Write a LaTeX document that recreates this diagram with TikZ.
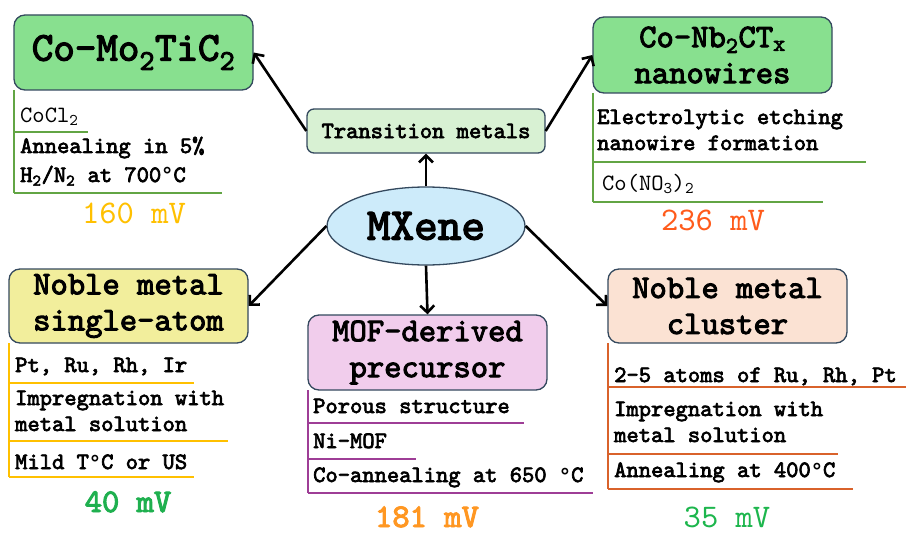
\documentclass[tikz,border=0pt]{standalone}
\usepackage{fontspec}
\newfontfamily\courb{lmmono10-regular.otf}[FakeBold=3]
\newfontfamily\courr{lmmono10-regular.otf}
\newcommand\dg{{\courr °}}
\usetikzlibrary{arrows.meta,shapes.geometric}
\definecolor{bordc}{HTML}{34495E}
\definecolor{gfill}{HTML}{88E08F}
\definecolor{tfill}{HTML}{D8F1D3}
\definecolor{efill}{HTML}{CDEBFA}
\definecolor{yfill}{HTML}{F2EE9C}
\definecolor{pfill}{HTML}{F1CDEC}
\definecolor{ofill}{HTML}{FBE2D3}
\definecolor{gline}{HTML}{62A544}
\definecolor{yline}{HTML}{FFC000}
\definecolor{pline}{HTML}{9E3D96}
\definecolor{oline}{HTML}{D9622B}
\definecolor{v160}{HTML}{FFC000}
\definecolor{v236}{HTML}{FF5B1B}
\definecolor{v40}{HTML}{1FB04F}
\definecolor{v181}{HTML}{FF9722}
\definecolor{v35}{HTML}{1DB64D}
\tikzset{
  box/.style={draw=bordc, line width=1.3pt, rounded corners=11pt, minimum width=239pt, inner sep=0pt, align=center, font=\courb\fontsize{33}{36}\selectfont},
  conn/.style={line width=2.6pt, -{Straight Barb[length=7pt,width=14pt]}},
  item/.style={anchor=base west, inner sep=0pt, font=\courb\fontsize{23.4}{27}\selectfont},
  itemr/.style={item, font=\courr\fontsize{23.4}{27}\selectfont},
  val/.style={anchor=base, inner sep=0pt, font=\courr\fontsize{33}{36}\selectfont},
  valb/.style={val, font=\courb\fontsize{33}{36}\selectfont},
  sep/.style={line width=1.4pt},
}
\begin{document}
\begin{tikzpicture}[x=1pt,y=-1pt]
\fill[white] (0,0) rectangle (906,535);
\useasboundingbox (0,0) rectangle (906,535);

% boxes
\node[box, fill=gfill, minimum height=75pt, font=\courb\fontsize{41}{44}\selectfont] (b1) at (133.5,52.5) {Co–Mo\textsubscript{2}TiC\textsubscript{2}};
\node[box, fill=gfill, minimum height=76pt] (b2) at (712.5,55) {Co–Nb\textsubscript{2}CT\textsubscript{x}\\nanowires};
\node[box, fill=yfill, minimum height=74pt] (b3) at (128.5,306) {Noble metal\\single-atom};
\node[box, fill=pfill, minimum height=75pt] (b4) at (427.5,352.5) {MOF-derived\\precursor};
\node[box, fill=ofill, minimum height=74pt] (b5) at (727.5,306) {Noble metal\\cluster};
\node[draw=bordc, line width=1.3pt, rounded corners=7pt, fill=tfill, minimum width=238pt, minimum height=44pt, inner sep=0pt, font=\courb\fontsize{23.4}{27}\selectfont] (tm) at (426,131) {Transition metals};
\node[ellipse, draw=bordc, line width=1.3pt, fill=efill, minimum width=198pt, minimum height=78pt, inner sep=0pt, font=\courb\fontsize{45}{48}\selectfont] (mx) at (426,226) {MXene};

% connectors
\draw[conn] (mx.north) -- (tm.south);
\draw[conn] (tm.west) -- (b1.east);
\draw[conn] (tm.east) -- (b2.west);
\draw[conn] (mx.west) -- (b3.east);
\draw[conn] (mx.east) -- (b5.west);
\draw[conn] (mx.south) -- (b4.north);

% box 1 details
\draw[sep, gline] (14,90) -- (14,193);
\draw[sep, gline] (14,132) -- (88,132);
\draw[sep, gline] (14,193) -- (222,193);
\node[itemr] (t11) at (20,122) {CoCl\textsubscript{2}};
\node[item] (t12) at (20,153) {Annealing in 5\%};
\node[item] (t13) at (20,182) {H\textsubscript{2}/N\textsubscript{2} at 700\dg C};
\node[val, text=v160] (v1) at (134,223) {160 mV};

% box 2 details
\draw[sep, gline] (593,93) -- (593,202);
\draw[sep, gline] (593,162) -- (866,162);
\draw[sep, gline] (593,202) -- (823,202);
\node[item] (t21) at (597,124) {Electrolytic etching};
\node[item] (t22) at (597,150) {nanowire formation};
\node[itemr] (t23) at (602,190) {Co(NO\textsubscript{3})\textsubscript{2}};
\node[val, text=v236] (v2) at (713,230) {236 mV};

% box 3 details
\draw[sep, yline] (9,343) -- (9,477);
\draw[sep, yline] (9,383) -- (194,383);
\draw[sep, yline] (9,441) -- (228,441);
\draw[sep, yline] (9,477) -- (194,477);
\node[item] (t31) at (15,372) {Pt, Ru, Rh, Ir};
\node[item] (t32) at (15,405) {Impregnation with};
\node[item] (t33) at (15,431) {metal solution};
\node[item] (t34) at (15,469) {Mild T\dg C or US};
\node[valb, text=v40] (v3) at (128,512) {40 mV};

% box 4 details
\draw[sep, pline] (308,390) -- (308,493);
\draw[sep, pline] (308,423) -- (524,423);
\draw[sep, pline] (307,459) -- (416,459);
\draw[sep, pline] (308,493) -- (593,493);
\node[item] (t41) at (313,413) {Porous structure};
\node[item] (t42) at (313,448) {Ni-MOF};
\node[item] (t43) at (313,482) {Co-annealing at 650 \dg C};
\node[valb, text=v181] (v4) at (427,527) {181 mV};

% box 5 details
\draw[sep, oline] (608,343) -- (608,489);
\draw[sep, oline] (608,387) -- (906,387);
\draw[sep, oline] (608,454) -- (838,454);
\draw[sep, oline] (608,489) -- (853,489);
\node[item] (t51) at (614,382) {2–5 atoms of Ru, Rh, Pt};
\node[item] (t52) at (614,416) {Impregnation with};
\node[item] (t53) at (614,442) {metal solution};
\node[item] (t54) at (614,477) {Annealing at 400\dg C};
\node[val, text=v35] (v5) at (727,527) {35 mV};
\end{tikzpicture}
\end{document}
